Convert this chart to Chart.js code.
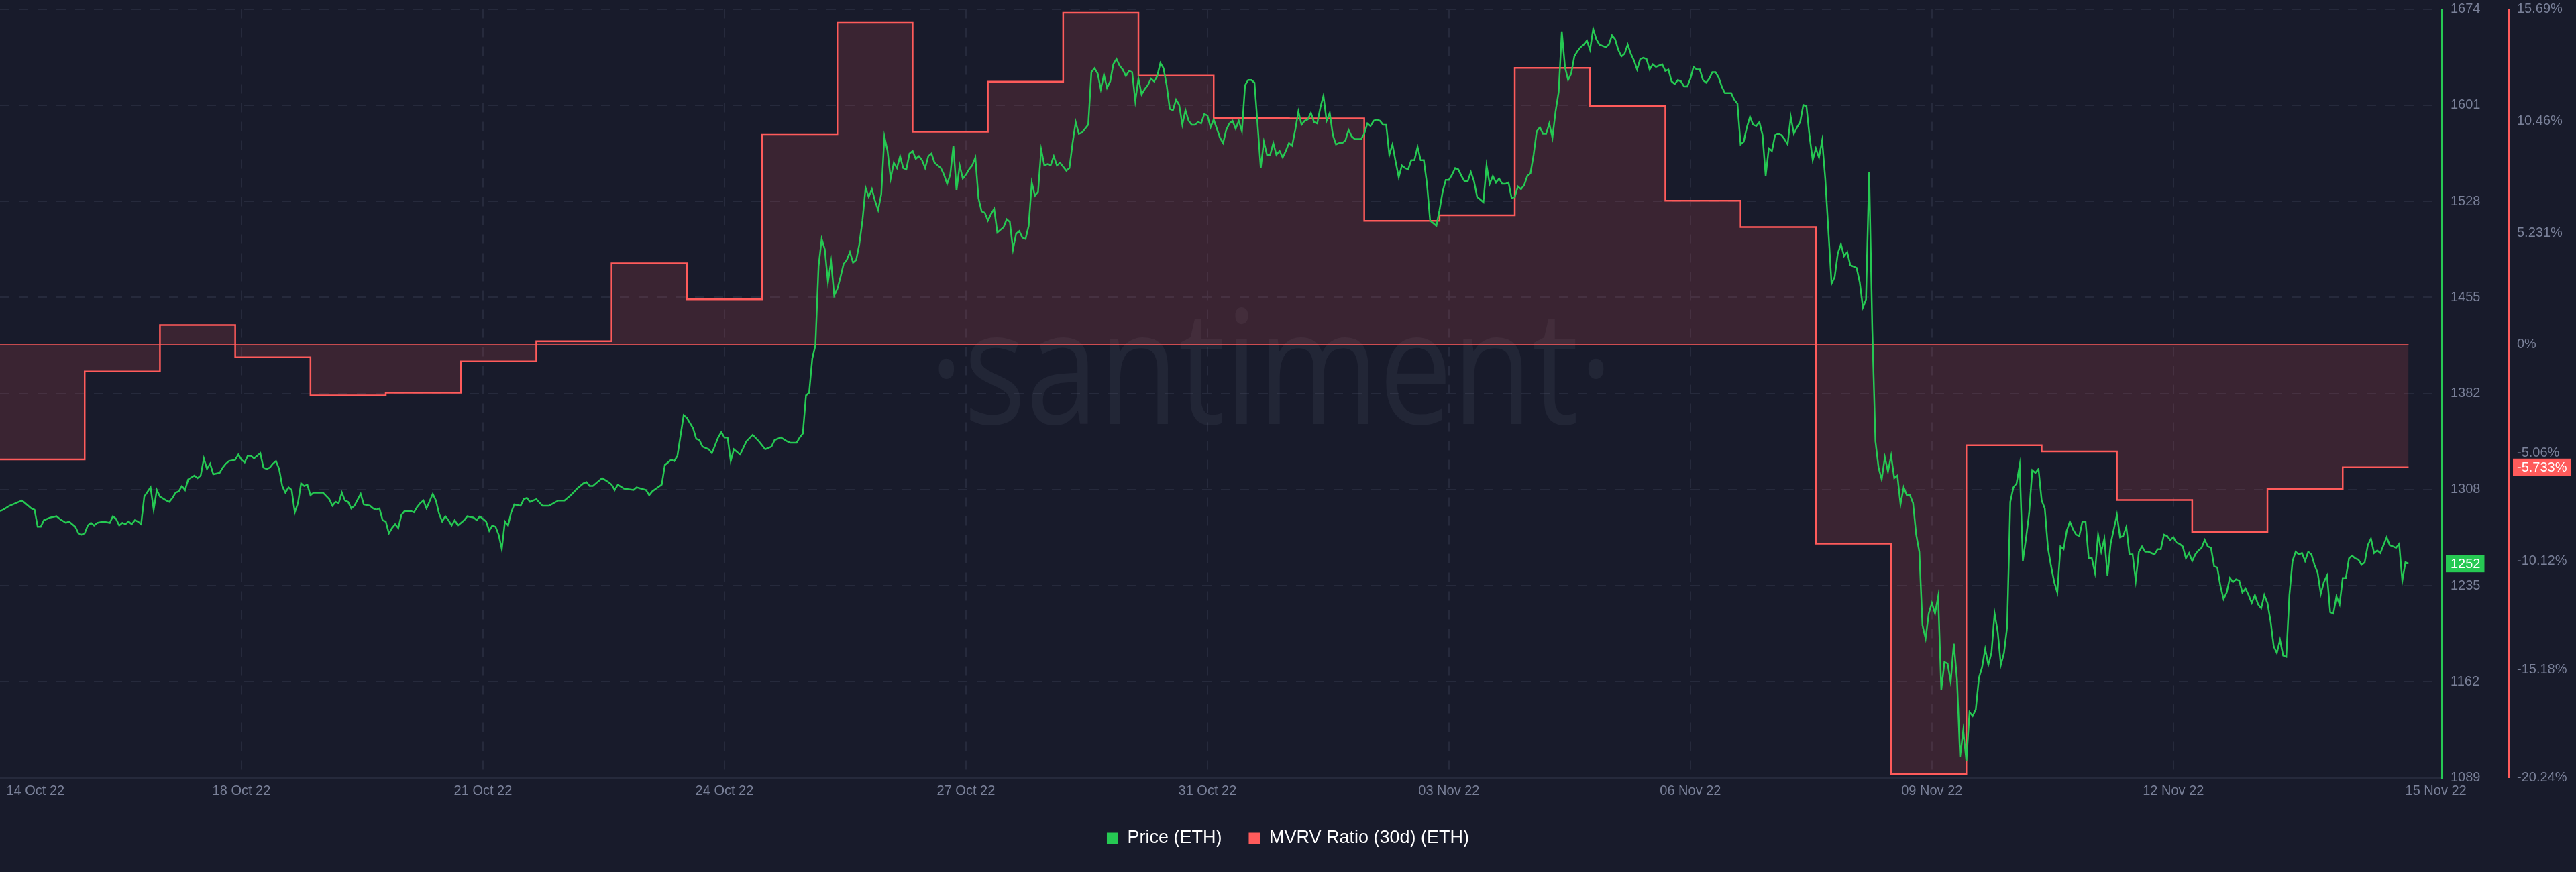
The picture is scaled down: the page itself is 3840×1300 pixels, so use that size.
<!DOCTYPE html>
<html><head><meta charset="utf-8">
<script src="https://cdn.jsdelivr.net/npm/chart.js@4.4.1/dist/chart.umd.min.js"></script>
<style>
html,body{margin:0;padding:0;background:#181b2b;}
#wrap{width:3840px;height:1300px;}
</style></head><body>
<div id="wrap"><canvas id="c" width="3840" height="1300"></canvas></div>
<script>
// ---------- DATA ----------
const seriesNames = ['Price (ETH)', 'MVRV Ratio (30d) (ETH)'];

// x axis: hours since the start of the window
const xTickHours  = [11.3, 77, 154, 231, 308, 385, 462, 539, 616, 693, 776.7];
const xTickLabels = ['14 Oct 22','18 Oct 22','21 Oct 22','24 Oct 22','27 Oct 22','31 Oct 22','03 Nov 22','06 Nov 22','09 Nov 22','12 Nov 22','15 Nov 22'];

// price axis
const priceMin = 1089, priceMax = 1674;
const priceTickLabels = ['1089','1162','1235','1308','1382','1455','1528','1601','1674'];

// MVRV axis
const mvrvMin = -20.24, mvrvMax = 15.69;
const mvrvTickValues = [15.69, 10.46, 5.231, 0, -5.06, -10.12, -15.18, -20.24];
const mvrvTickLabels = ['15.69%','10.46%','5.231%','0%','-5.06%','-10.12%','-15.18%','-20.24%'];

// MVRV (daily values, held until next value)
const mvrvHours  = [0,27,51,75,99,123,147,171,195,219,243,267,291,315,339,363,387,411,435,459,483,507,531,555,579,603,627,651,675,699,723,747,768];
const mvrvValues = [-5.36,-1.25,0.92,-0.59,-2.37,-2.24,-0.78,0.16,3.81,2.12,9.81,15.05,9.95,12.30,15.52,12.58,10.60,10.58,5.79,6.05,12.94,11.16,6.73,5.50,-9.30,-20.07,-4.70,-4.99,-7.26,-8.75,-6.74,-5.733,-5.733];

// Price, first part (irregular hours)
const priceHoursA = [
0,1,3,4,5,7,8,10,11,12,
13,14,16,18,19,21,22,24,25,26,
27,28,29,30,31,33,35,36,37,38,
39,40,41,42,43,44,45,46,48,49,
50,51,53,54,55,56,57,58,59,60,
62,63,64,65,66,67,68,70,71,72,
73,75,76,77,78,79,80,81,83,84,
85,86,87,88,89,90,91,92,93,94,
95,96,97,98,99,100,103,105,106,107,
108,109,110,111,112,113,115,116,118,119,
120,121,122,123,124,125,126,127,128,129,
131,132,133,134,135,136,138,139,140,141,
142,143,144,145,146,148,149,151,152,153,
155,156,157,158,159,160,161,162,163,164,
166,167,168,169,171,173,175,178,180,182,
184,186,187,188,189,192,194,195,196,197,
199,202,203,206,207,208,211,212,214,215,
216,218,219,221,222,223,224,226,227,228,
229,230,231,232,233,234,236,237,238,240,
242,244,246,247,249,251,252,254,255,256,
257,258,259,260];
const priceValuesA = [
1292,1293,1296,1297,1298,1300,1298,1294,1293,1280,
1280,1285,1287,1288,1286,1283,1284,1280,1275,1274,
1275,1281,1283,1281,1283,1284,1283,1288,1286,1281,
1283,1282,1284,1282,1285,1284,1282,1303,1310,1293,
1308,1303,1300,1299,1302,1306,1307,1311,1308,1316,
1319,1317,1319,1332,1324,1328,1320,1321,1325,1328,
1330,1331,1335,1331,1329,1334,1334,1332,1336,1325,
1324,1325,1328,1330,1324,1311,1306,1310,1308,1291,
1298,1313,1311,1312,1304,1306,1306,1301,1296,1299,
1298,1306,1300,1299,1294,1296,1305,1297,1296,1294,
1293,1294,1285,1284,1275,1279,1282,1279,1289,1292,
1292,1291,1295,1298,1300,1294,1305,1300,1290,1284,
1288,1285,1281,1285,1281,1285,1288,1287,1285,1288,
1284,1277,1281,1280,1274,1263,1284,1281,1291,1297,
1296,1301,1302,1299,1301,1296,1296,1300,1300,1304,
1309,1313,1314,1311,1311,1317,1314,1312,1308,1312,
1309,1308,1310,1308,1304,1307,1312,1327,1331,1330,
1334,1365,1363,1355,1347,1346,1341,1339,1336,1342,
1348,1352,1348,1348,1330,1339,1335,1340,1345,1350,
1345,1339,1341,1346,1348,1345,1344,1344,1348,1351,
1380,1382,1408,1418];

// Price, second part: hourly from priceStartB
const priceStartB = 261;
const priceValuesB = [
1478,1499,1491,1466,1482,1456,1461,1470,1480,1483,
1489,1481,1483,1495,1513,1538,1531,1537,1528,1521,
1533,1577,1566,1545,1557,1553,1562,1553,1552,1564,
1566,1560,1562,1559,1553,1562,1564,1557,1555,1553,
1548,1541,1548,1570,1536,1555,1545,1548,1552,1555,
1561,1530,1520,1519,1513,1518,1522,1504,1506,1508,
1514,1512,1491,1503,1505,1500,1499,1509,1542,1532,
1535,1567,1555,1556,1555,1562,1555,1557,1554,1551,
1553,1572,1588,1579,1580,1583,1586,1626,1629,1625,
1613,1624,1614,1619,1632,1636,1631,1628,1623,1627,
1626,1604,1621,1609,1613,1616,1621,1619,1623,1633,
1629,1616,1598,1597,1605,1601,1586,1597,1589,1586,
1586,1588,1587,1594,1593,1584,1590,1583,1576,1572,
1582,1587,1589,1583,1589,1581,1616,1620,1620,1618,
1586,1553,1573,1563,1563,1572,1563,1566,1561,1566,
1572,1570,1582,1596,1586,1589,1590,1595,1588,1587,
1599,1608,1589,1595,1578,1571,1572,1572,1574,1582,
1577,1575,1575,1575,1579,1587,1585,1589,1590,1589,
1586,1586,1563,1571,1558,1546,1555,1553,1552,1559,
1559,1569,1559,1559,1541,1513,1511,1509,1521,1535,
1544,1544,1548,1553,1552,1547,1543,1543,1550,1543,
1531,1529,1527,1555,1541,1547,1542,1545,1541,1541,
1542,1530,1531,1539,1537,1540,1547,1549,1563,1581,
1584,1579,1579,1587,1576,1596,1611,1657,1630,1620,
1625,1638,1642,1645,1647,1650,1643,1659,1651,1647,
1646,1645,1647,1654,1651,1643,1638,1640,1647,1640,
1635,1628,1636,1637,1636,1628,1632,1630,1631,1632,
1627,1628,1619,1617,1620,1619,1615,1615,1621,1630,
1628,1628,1620,1618,1621,1626,1626,1622,1615,1610,
1610,1610,1605,1602,1571,1573,1584,1592,1586,1585,
1588,1578,1547,1568,1566,1578,1579,1578,1575,1571,
1592,1579,1584,1588,1601,1600,1577,1559,1568,1561,
1574,1545,1505,1465,1470,1488,1495,1486,1489,1479,
1478,1477,1466,1447,1453,1550,1430,1345,1325,1316,
1333,1322,1334,1317,1319,1297,1310,1304,1304,1298,
1274,1261,1205,1195,1214,1222,1214,1227,1156,1177,
1176,1162,1191,1164,1105,1125,1102,1139,1136,1141,
1165,1173,1187,1175,1184,1214,1200,1175,1184,1204,
1299,1310,1313,1327,1254,1271,1290,1323,1321,1324,
1300,1294,1264,1250,1238,1230,1265,1263,1277,1284,
1278,1274,1273,1284,1284,1256,1256,1245,1274,1261,
1271,1243,1267,1278,1289,1272,1273,1280,1259,1259,
1239,1261,1265,1261,1261,1260,1259,1263,1263,1274,
1273,1270,1272,1268,1267,1265,1256,1260,1254,1259,
1262,1264,1270,1265,1264,1250,1249,1235,1225,1230,
1241,1238,1240,1239,1230,1233,1228,1222,1228,1221,
1218,1228,1222,1208,1189,1184,1194,1182,1181,1228,
1254,1261,1259,1260,1254,1261,1259,1251,1245,1229,
1238,1243,1215,1214,1227,1221,1241,1241,1256,1258,
1256,1255,1251,1253,1266,1271,1260,1262,1260,1266,
1272,1266,1265,1264,1267,1239,1253,1252];

// ---------- STYLE ----------
const GREEN = '#26c953';
const RED = '#ff5b5b';
const GRID = '#262a3c';
const TICK = '#7a8199';
Chart.defaults.font.family = '"Liberation Sans", Arial, sans-serif';

const pricePoints = priceHoursA.map((h, i) => ({x: h, y: priceValuesA[i]}))
  .concat(priceValuesB.map((v, i) => ({x: priceStartB + i, y: v})));
const mvrvPoints = mvrvHours.map((h, i) => ({x: h, y: mvrvValues[i]}));
const lastPrice = priceValuesB[priceValuesB.length - 1];
const lastMvrv = mvrvValues[mvrvValues.length - 1];
const priceStep = (priceMax - priceMin) / (priceTickLabels.length - 1);

const decor = {
  id: 'decor',
  beforeDatasetsDraw(chart) {
    const {ctx, chartArea: a, scales} = chart;
    // watermark
    ctx.save();
    ctx.font = '400 237px "Open Sans"';
    const w = ctx.measureText('santiment').width;
    ctx.translate(1895, 632);
    ctx.scale(917 / w, 1);
    ctx.fillStyle = 'rgba(130,135,160,0.10)';
    ctx.textAlign = 'center';
    ctx.textBaseline = 'alphabetic';
    ctx.fillText('\u00B7santiment\u00B7', 0, 0);
    ctx.restore();
    // zero baseline of the MVRV area
    const y0 = scales.mvrv.getPixelForValue(0);
    const xEnd = scales.x.getPixelForValue(mvrvHours[mvrvHours.length - 1]);
    ctx.save();
    ctx.strokeStyle = RED;
    ctx.lineWidth = 1.5;
    ctx.beginPath();
    ctx.moveTo(a.left, y0);
    ctx.lineTo(xEnd, y0);
    ctx.stroke();
    ctx.restore();
  },
  afterDraw(chart) {
    const {ctx, scales} = chart;
    ctx.save();
    ctx.font = '20px "Liberation Sans", Arial, sans-serif';
    ctx.textBaseline = 'middle';
    ctx.textAlign = 'left';
    // price badge
    let y = scales.price.getPixelForValue(lastPrice);
    let t = String(lastPrice);
    let tw = ctx.measureText(t).width;
    let x = scales.price.left + 6;
    ctx.fillStyle = GREEN;
    ctx.fillRect(x, y - 13, tw + 13, 26);
    ctx.fillStyle = '#ffffff';
    ctx.fillText(t, x + 7, y + 1);
    // mvrv badge
    y = scales.mvrv.getPixelForValue(lastMvrv);
    t = lastMvrv.toFixed(3) + '%';
    tw = ctx.measureText(t).width;
    x = scales.mvrv.left + 6;
    ctx.fillStyle = RED;
    ctx.fillRect(x, y - 13, tw + 12, 26);
    ctx.fillStyle = '#ffffff';
    ctx.fillText(t, x + 6, y + 1);
    ctx.restore();
  }
};

new Chart(document.getElementById('c'), {
  type: 'line',
  data: {
    datasets: [
      {
        label: seriesNames[0],
        data: pricePoints,
        yAxisID: 'price',
        borderColor: GREEN,
        backgroundColor: GREEN,
        borderWidth: 2.5,
        pointRadius: 0,
        tension: 0,
        fill: false,
        legendColor: GREEN
      },
      {
        label: seriesNames[1],
        data: mvrvPoints,
        yAxisID: 'mvrv',
        borderColor: RED,
        backgroundColor: 'rgba(255,91,91,0.15)',
        borderWidth: 2.5,
        pointRadius: 0,
        stepped: true,
        fill: 'origin',
        legendColor: RED
      }
    ]
  },
  options: {
    responsive: false,
    animation: false,
    devicePixelRatio: 1,
    parsing: false,
    normalized: true,
    layout: {padding: {top: 13.5, left: 0, right: 0, bottom: 26.5}},
    plugins: {
      tooltip: {enabled: false},
      legend: {
        position: 'bottom',
        labels: {
          boxWidth: 17,
          boxHeight: 17,
          padding: 40,
          color: '#ffffff',
          font: {size: 27},
          generateLabels: (chart) => chart.data.datasets.map((ds, i) => ({
            text: ds.label,
            fillStyle: ds.legendColor,
            strokeStyle: 'rgba(0,0,0,0)',
            lineWidth: 0,
            hidden: false,
            datasetIndex: i,
            fontColor: '#ffffff'
          }))
        }
      }
    },
    scales: {
      x: {
        type: 'linear',
        min: 0,
        max: 778.6,
        afterBuildTicks: (s) => { s.ticks = xTickHours.map(v => ({value: v})); },
        afterFit: (s) => { s.height = 37; s.paddingLeft = 0; s.paddingRight = 0; },
        ticks: {
          autoSkip: false,
          maxRotation: 0,
          padding: 8,
          color: TICK,
          font: {size: 20},
          callback: (v, i) => xTickLabels[i]
        },
        grid: {
          drawTicks: false,
          lineWidth: 2,
          color: (c) => (c.index === 0 || c.index === xTickHours.length - 1) ? 'rgba(0,0,0,0)' : GRID
        },
        border: {display: true, color: GRID, width: 2, dash: [14, 14]}
      },
      price: {
        type: 'linear',
        position: 'right',
        weight: 0,
        min: priceMin,
        max: priceMax,
        afterBuildTicks: (s) => { s.ticks = priceTickLabels.map((l, i) => ({value: priceMin + i * priceStep})); },
        afterFit: (s) => { s.width = 100; s.paddingTop = 0; s.paddingBottom = 0; },
        ticks: {
          autoSkip: false,
          padding: 13,
          color: TICK,
          font: {size: 20},
          callback: (v) => priceTickLabels[Math.round((v - priceMin) / priceStep)]
        },
        grid: {drawTicks: false, lineWidth: 2, color: GRID},
        border: {display: true, color: GREEN, width: 2, dash: [14, 14]}
      },
      mvrv: {
        type: 'linear',
        position: 'right',
        weight: 1,
        min: mvrvMin,
        max: mvrvMax,
        afterBuildTicks: (s) => { s.ticks = mvrvTickValues.map(v => ({value: v})); },
        afterFit: (s) => { s.width = 100; s.paddingTop = 0; s.paddingBottom = 0; },
        ticks: {
          autoSkip: false,
          padding: 12,
          color: TICK,
          font: {size: 20},
          callback: (v) => mvrvTickLabels[mvrvTickValues.indexOf(v)]
        },
        grid: {display: false, drawTicks: false},
        border: {display: true, color: RED, width: 2}
      }
    }
  },
  plugins: [decor]
});
</script>
</body></html>
